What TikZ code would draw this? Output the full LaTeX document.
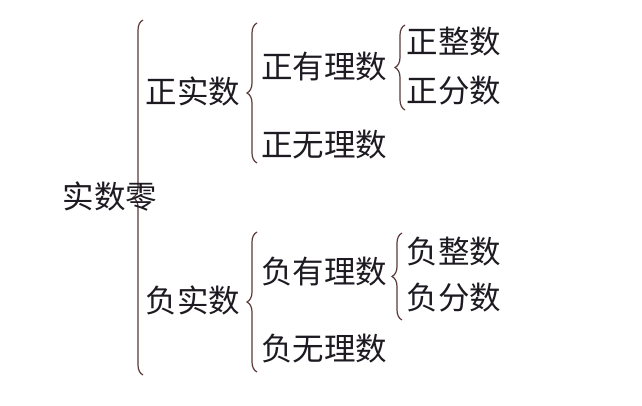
\documentclass[tikz,border=0pt]{standalone}
\usepackage{fontspec}
\newfontfamily\cjk{Noto Sans CJK SC}
\usetikzlibrary{decorations.pathreplacing}
\definecolor{bracecol}{HTML}{5A3A3A}
\definecolor{txtcol}{HTML}{1E1A22}
\begin{document}
\begin{tikzpicture}[x=1pt,y=-1pt,
  lbl/.style={inner sep=0pt,font=\cjk\fontsize{31.5}{31.5}\selectfont,text=txtcol},
  brc/.style={draw=bracecol,line width=1.2pt,decorate,decoration={brace,amplitude=10pt}}]
\useasboundingbox[fill=white] (0,0) rectangle (642,406);
% brace end coordinates
\coordinate (b0t) at (143,20);  \coordinate (b0b) at (143,375);
\coordinate (b1t) at (257,23);  \coordinate (b1b) at (257,163);
\coordinate (b2t) at (405,25);  \coordinate (b2b) at (405,110);
\coordinate (b3t) at (257,232); \coordinate (b3b) at (257,372);
\coordinate (b4t) at (402,233); \coordinate (b4b) at (402,320);
\draw[brc] (b0b) -- (b0t);
\draw[brc] (b1b) -- (b1t);
\draw[brc] (b2b) -- (b2t);
\draw[brc] (b3b) -- (b3t);
\draw[brc] (b4b) -- (b4t);
% labels
\node[lbl] (real) at (110,197) {实数零};
\node[lbl] (pos) at (193,91) {正实数};
\node[lbl] (neg) at (193,300) {负实数};
\node[lbl] (posrat) at (324,67) {正有理数};
\node[lbl] (posirr) at (324,145) {正无理数};
\node[lbl] (negrat) at (324,272) {负有理数};
\node[lbl] (negirr) at (324,349) {负无理数};
\node[lbl] (posint) at (454,42) {正整数};
\node[lbl] (posfrac) at (454,91) {正分数};
\node[lbl] (negint) at (454,252) {负整数};
\node[lbl] (negfrac) at (454,298) {负分数};
\end{tikzpicture}
\end{document}
